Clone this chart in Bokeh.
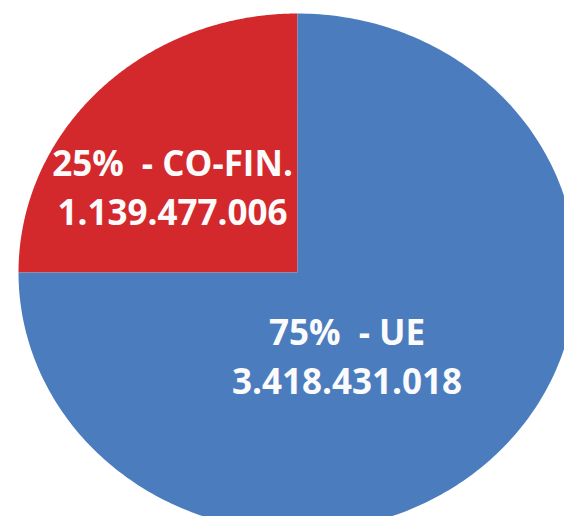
import numpy as np
from bokeh.plotting import figure
from bokeh.models import ColumnDataSource, Range1d
from bokeh.core.properties import value
from bokeh.embed import file_html
from bokeh.resources import INLINE

# ---- data ----
categories = ["CO-FIN.", "UE"]
amounts = [1139477006, 3418431018]
colors = ["#D3292D", "#4B7DBE"]

# ---- layout (pixels on the canvas) ----
W, H = 564, 516
CX, CY = 297, 272          # pie centre, from top-left of canvas
RX, RY = 279, 259          # horizontal / vertical radius in px
LABEL_XY = [(-0.448, 0.330), (0.1774, -0.3243)]   # label anchors in unit-pie coords
HALF_GAP = 25              # px between the anchor and each label line

p = figure(width=W, height=H, output_backend="svg", toolbar_location=None,
           x_range=Range1d(-CX / RX, (W - CX) / RX),
           y_range=Range1d(-(H - CY) / RY, CY / RY),
           min_border=0)
p.axis.visible = False
p.grid.visible = False
p.outline_line_color = None
p.background_fill_color = "white"
p.border_fill_color = "white"

total = float(sum(amounts))
fracs = [a / total for a in amounts]
start = np.pi / 2
xs, ys = [], []
for f in fracs:
    end = start + f * 2 * np.pi
    t = np.linspace(start, end, 300)
    xs.append(np.concatenate([[0.0], np.cos(t), [0.0]]))
    ys.append(np.concatenate([[0.0], np.sin(t), [0.0]]))
    start = end

p.patches(xs=xs, ys=ys, fill_color=colors, line_color=None)

def fmt(n):
    return f"{n:,}".replace(",", ".")

src = ColumnDataSource(dict(
    x=[xy[0] for xy in LABEL_XY],
    y=[xy[1] for xy in LABEL_XY],
    line1=[f"{round(f*100)}%\u00a0 - {c}" for f, c in zip(fracs, categories)],
    line2=[fmt(a) for a in amounts],
))
style = dict(text_color="#FBFBFB", text_font=value("Open Sans"), text_font_style="bold",
             text_font_size="35px", text_align="center", text_baseline="alphabetic")
p.text(x="x", y="y", text="line1", source=src, y_offset=-HALF_GAP, **style)
p.text(x="x", y="y", text="line2", source=src, y_offset=HALF_GAP, **style)

open("out.html", "w").write(file_html(p, INLINE))
